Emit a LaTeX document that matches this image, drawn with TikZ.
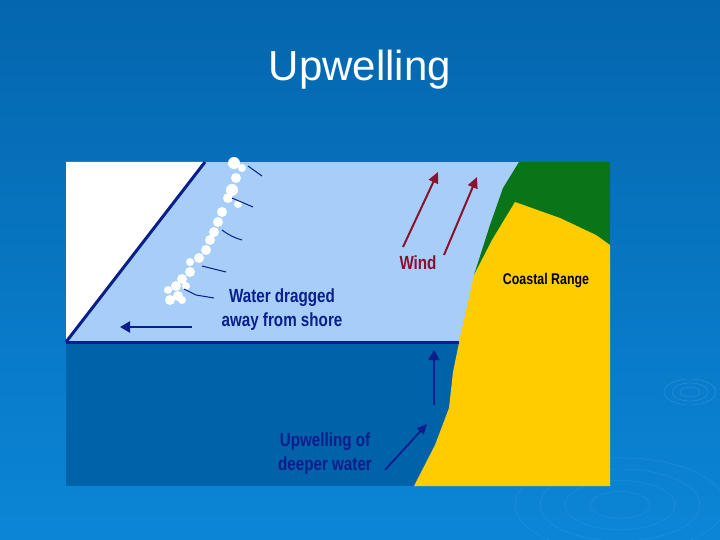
\documentclass[tikz,border=0pt]{standalone}
\usepackage{fontspec}
\setmainfont{Liberation Sans}
\usetikzlibrary{arrows.meta}
\definecolor{bgtop}{HTML}{0466AE}
\definecolor{bgbot}{HTML}{0B86D6}
\definecolor{light}{HTML}{A6CEF8}
\definecolor{deep}{HTML}{0062A8}
\definecolor{navy}{HTML}{0A1E8C}
\definecolor{wine}{HTML}{8C1030}
\definecolor{sand}{HTML}{FFCC00}
\definecolor{forest}{HTML}{0A7418}
\tikzset{
  lbl/.style={font=\bfseries\fontsize{19}{21}\selectfont, align=center, inner sep=0pt},
  bluearrow/.style={navy, line width=2.4pt, -{Triangle[length=10pt,width=11pt]}},
  windarrow/.style={wine, line width=2pt, -{Triangle[length=11pt,width=10pt]}},
  foam/.style={fill=white, draw=none},
  gust/.style={navy, line width=1pt}
}
\begin{document}
\begin{tikzpicture}[x=1pt,y=-1pt]
\useasboundingbox (0,0) rectangle (720,540);
\shade[top color=bgtop, bottom color=bgbot] (0,0) rectangle (720,540);
\foreach \r in {10,18,26} \draw[white!50!bgbot, opacity=0.3] (690,392) ellipse ({\r} and {\r*0.5});
\foreach \r in {30,55,80,105} \draw[white!50!bgbot, opacity=0.2] (620,505) ellipse ({\r} and {\r*0.45});
\node[white, font=\fontsize{42}{46}\selectfont] (title) at (360,70) {Upwelling};
% panel
\fill[light] (66,162) rectangle (610,342);
\fill[white] (66,162) -- (205,162) -- (66,342) -- cycle;
\fill[deep] (66,342) rectangle (470,486);
% land
\fill[forest] (519,162) -- (610,162) -- (610,250) -- (474,275) -- (490,225) -- (503,188) -- cycle;
\fill[sand] (474,275) -- (492,240) -- (515,202) -- (560,218) -- (596,235) -- (610,245) -- (610,486) -- (414,486) -- (435,445) -- (449,408) -- (453,372) -- (460,338) -- cycle;
\draw[navy, line width=3pt] (66,342) -- (205,162);
\draw[navy, line width=3pt] (66,342) -- (459,342);
% foam
\foreach \x/\y/\r in {234/163/6,242/168/4,236/178/5,232/190/6,228/198/5,238/204/4,222/212/5,218/222/5,214/232/5,210/240/5,206/250/5,199/258/5,190/262/4,190/272/5,182/279/5,176/286/5,178/296/5,170/300/5,168/290/4,186/286/4,182/300/4}
  \fill[foam] (\x,\y) circle ({\r});
% gust lines
\draw[gust] (248,166) -- (262,176);
\draw[gust] (232,198) -- (253,207);
\draw[gust] (222,230) to[bend right=10] (242,240);
\draw[gust] (202,266) -- (226,272);
\draw[gust] (184,289) -- (196,295) -- (214,298);
% labels
\node[lbl, navy] (drag) at (282,310) {\scalebox{0.8}[1]{Water dragged}\\[3pt]\scalebox{0.8}[1]{away from shore}};
\node[lbl, navy] (upw) at (325,454) {\scalebox{0.8}[1]{Upwelling of}\\[3pt]\scalebox{0.8}[1]{deeper water}};
\node[lbl, wine] (wind) at (418,263) {\scalebox{0.8}[1]{Wind}};
\node[lbl, black, font=\bfseries\fontsize{15.5}{17}\selectfont] (coast) at (546,281) {\scalebox{0.8}[1]{Coastal Range}};
% arrows
\coordinate (la1) at (192,327); \coordinate (la2) at (120,327);
\draw[bluearrow] (la1) -- (la2);
\coordinate (ua1) at (434,405); \coordinate (ua2) at (434,350);
\draw[bluearrow] (ua1) -- (ua2);
\coordinate (da1) at (385,470); \coordinate (da2) at (427,424);
\draw[navy, line width=1.8pt, -{Triangle[length=10pt,width=9pt]}] (da1) -- (da2);
\coordinate (w1a) at (403,247); \coordinate (w1b) at (438,172);
\coordinate (w2a) at (444,255); \coordinate (w2b) at (477,177);
\draw[windarrow] (w1a) -- (w1b);
\draw[windarrow] (w2a) -- (w2b);
\end{tikzpicture}
\end{document}
